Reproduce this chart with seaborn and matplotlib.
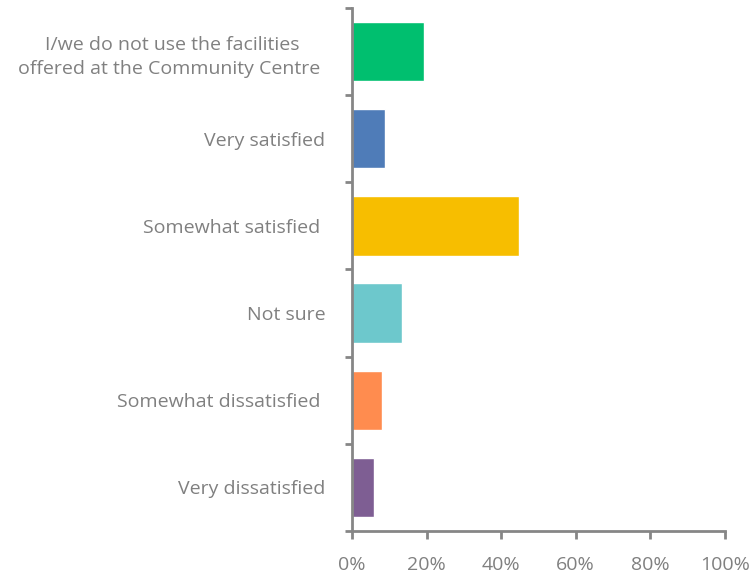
import pandas as pd
import matplotlib.pyplot as plt
import seaborn as sns
import numpy as np
from matplotlib.ticker import FixedLocator, PercentFormatter

categories = [
    "I/we do not use the facilities\noffered at the Community Centre ",
    "Very satisfied",
    "Somewhat satisfied ",
    "Not sure",
    "Somewhat dissatisfied ",
    "Very dissatisfied",
]
shares = [19.2, 8.8, 44.8, 13.4, 8.0, 5.8]
bar_colors = ["#00BF6F", "#4F7CB8", "#F7BE00", "#6DC8CC", "#FF8C4F", "#7E5E93"]

grey_axis = "#868686"
grey_text = "#808080"

sns.set_style("white")
plt.rcParams["font.family"] = ["Open Sans", "DejaVu Sans"]

df = pd.DataFrame({"Category": categories, "Share": shares})

f = plt.figure(figsize=(7.52, 5.77), dpi=100)
ax = f.add_axes([0.468, 0.080, 0.496, 0.906])

sns.barplot(data=df, y="Category", x="Share", hue="Category",
            palette=bar_colors, order=categories, width=0.68,
            legend=False, ax=ax, saturation=1)

ax.set_xlim(0, 100)
ax.set_ylim(5.5, -0.5)
ax.set_xlabel("")
ax.set_ylabel("")
ax.set_xticks(np.arange(0, 101, 20))
ax.xaxis.set_major_formatter(PercentFormatter(decimals=0))

# category boundary ticks like a spreadsheet chart
ax.yaxis.set_minor_locator(FixedLocator(np.arange(-0.5, 6.0, 1.0)))
ax.tick_params(axis="y", which="major", length=0, pad=19, labelsize=14, labelcolor=grey_text)
ax.tick_params(axis="y", which="minor", length=5, width=2, color=grey_axis, left=True)
ax.tick_params(axis="x", which="major", length=6, width=2, color=grey_axis, bottom=True,
               pad=12, labelsize=14, labelcolor=grey_text)
for lab in ax.get_yticklabels():
    lab.set_multialignment("center")
    lab.set_linespacing(1.45)

for side in ["top", "right"]:
    ax.spines[side].set_visible(False)
for side in ["left", "bottom"]:
    ax.spines[side].set_color(grey_axis)
    ax.spines[side].set_linewidth(2)

f.savefig("out.png", dpi=100)
